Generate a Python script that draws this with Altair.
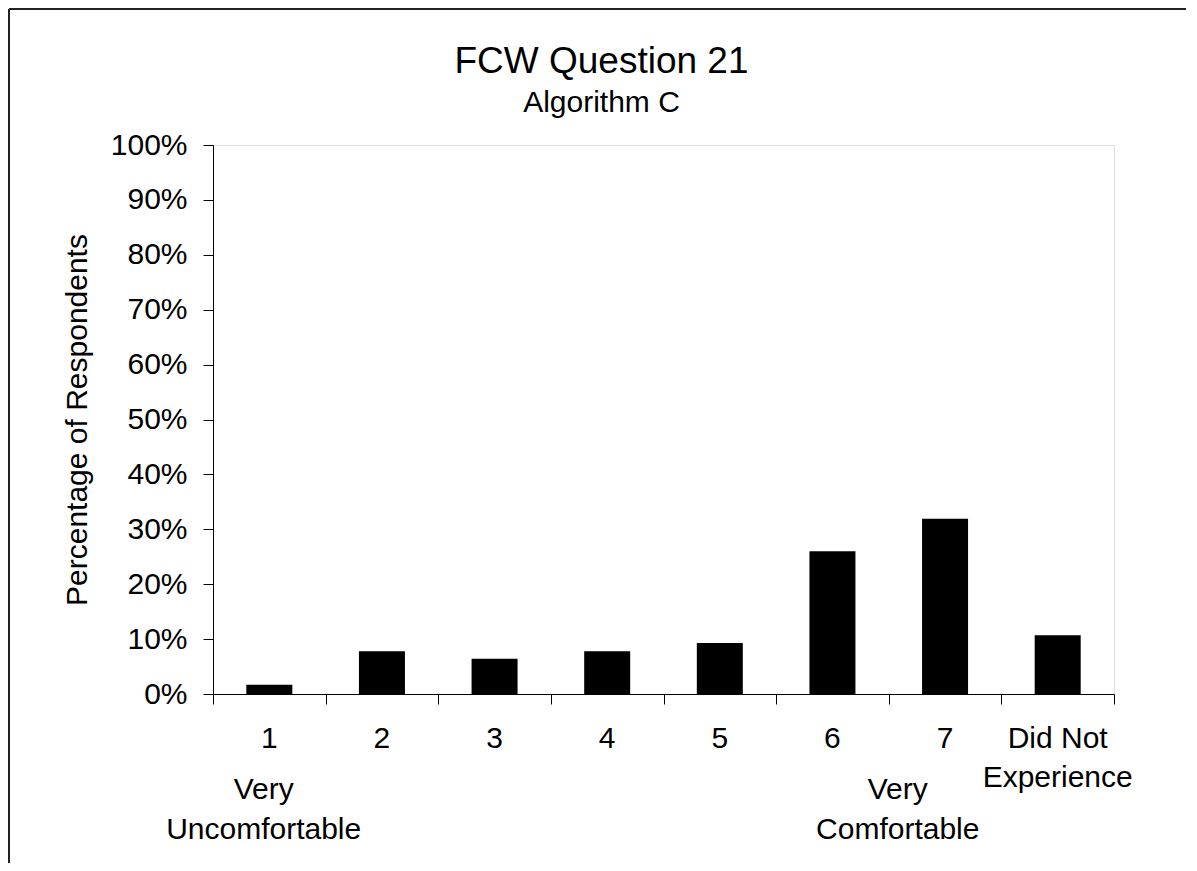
import altair as alt
import pandas as pd

# ---- data ----
categories = ["1", "2", "3", "4", "5", "6", "7", "Did Not\nExperience"]
percent = [0.017, 0.078, 0.064, 0.078, 0.093, 0.260, 0.319, 0.107]
y_tick_values = [0, 0.1, 0.2, 0.3, 0.4, 0.5, 0.6, 0.7, 0.8, 0.9, 1.0]
anchor_texts = ["Very\nUncomfortable", "Very\nComfortable"]
anchor_slot = [0.45, 6.08]  # position along the category axis (slot units)

FONT = "Liberation Sans"

df = pd.DataFrame({
    "cat": categories,
    "pos": [i + 0.5 for i in range(len(categories))],
    "pct": percent,
})
anchors = pd.DataFrame({"txt": anchor_texts, "pos": anchor_slot})

xscale = alt.Scale(domain=[0, len(categories)], nice=False, zero=False, padding=0)
xaxis = alt.Axis(values=list(range(len(categories) + 1)), labels=False, tickSize=10,
                 grid=False, title=None, domainColor="black", tickColor="black",
                 domainWidth=1, tickWidth=1)
yaxis = alt.Axis(values=y_tick_values, format=".0%", tickSize=10, labelPadding=16,
                 grid=False, labelFontSize=30, labelFont=FONT, labelColor="black",
                 domainColor="black", tickColor="black", domainWidth=1, tickWidth=1,
                 title="Percentage of Respondents", titleFontSize=30, titleFont=FONT,
                 titleFontWeight="normal", titleColor="black", titlePadding=18)

bars = alt.Chart(df).mark_bar(orient="vertical", size=46, color="black").encode(
    x=alt.X("pos:Q", scale=xscale, axis=xaxis),
    y=alt.Y("pct:Q", scale=alt.Scale(domain=[0, 1], nice=False, padding=0), axis=yaxis),
)

cat_text = alt.Chart(df).mark_text(
    font=FONT, fontSize=30, color="black", baseline="alphabetic", align="center",
    lineBreak="\n", lineHeight=39,
).encode(x=alt.X("pos:Q", scale=xscale), y=alt.value(603), text="cat:N")

anchor_text = alt.Chart(anchors).mark_text(
    font=FONT, fontSize=30, color="black", baseline="alphabetic", align="center",
    lineBreak="\n", lineHeight=40,
).encode(x=alt.X("pos:Q", scale=xscale), y=alt.value(654), text="txt:N")

# outer frame (left and top edges)
frame_top = alt.Chart(df).mark_rule(color="#222222", strokeWidth=2).encode(
    x=alt.value(-204), x2=alt.value(990), y=alt.value(-136))
frame_left = alt.Chart(df).mark_rule(color="#222222", strokeWidth=2).encode(
    x=alt.value(-204), y=alt.value(-136), y2=alt.value(720))

chart = alt.layer(frame_top, frame_left, bars, cat_text, anchor_text).properties(
    width=901, height=549,
    title=alt.Title("FCW Question 21", subtitle="Algorithm C", font=FONT, fontSize=37,
                    fontWeight="normal", color="black", subtitleFont=FONT,
                    subtitleFontSize=30, subtitleColor="black", anchor="middle",
                    dx=-62, offset=-111, subtitlePadding=7),
    autosize=alt.AutoSizeParams(type="none"),
    padding={"left": 205, "top": 137, "right": 72, "bottom": 169},
).configure_view(stroke="#8c8c8c", strokeWidth=2).configure(background="white")

chart.save("out.html", embed_options={"renderer": "svg", "actions": False})
